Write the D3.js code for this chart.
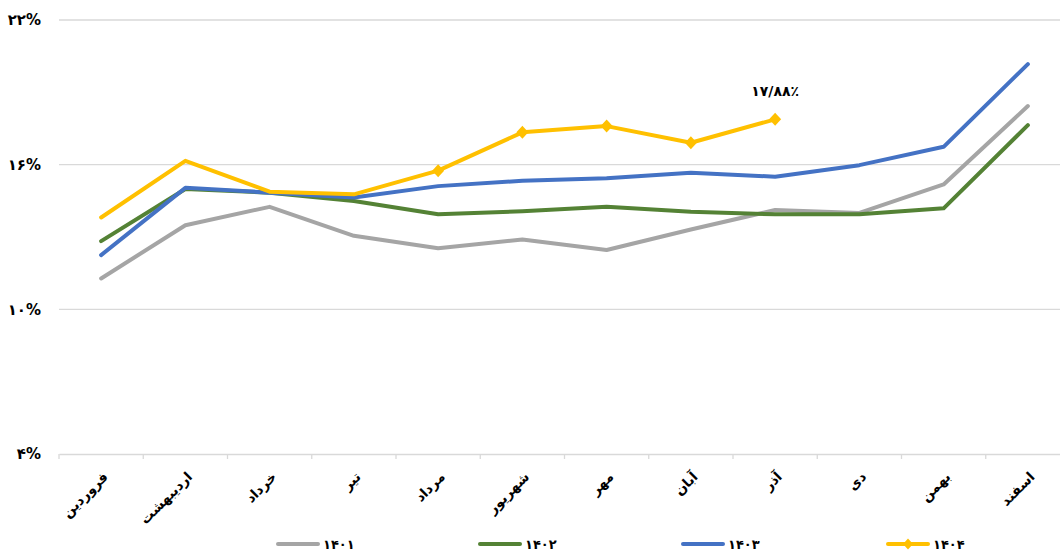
<!DOCTYPE html>
<html><head><meta charset="utf-8">
<script src="https://cdn.jsdelivr.net/npm/d3@7"></script>
<style>
html,body{margin:0;padding:0;background:#fff;}
svg{display:block;}
text{font-family:"DejaVu Sans",sans-serif;}
</style></head>
<body><svg id="c" width="1060" height="553"></svg>
<script>
const months = ["فروردین","اردیبهشت","خرداد","تیر","مرداد","شهریور","مهر","آبان","آذر","دی","بهمن","اسفند"];
const s1401 = [11.28,13.49,14.25,13.05,12.53,12.90,12.46,13.31,14.12,14.00,15.18,18.43];
const s1402 = [12.83,14.99,14.84,14.49,13.94,14.07,14.25,14.05,13.94,13.94,14.19,17.64];
const s1403 = [12.25,15.04,14.84,14.64,15.11,15.33,15.44,15.66,15.50,15.98,16.74,20.17];
const s1404 = [13.81,16.16,14.88,14.77,15.75,17.34,17.60,16.91,17.88];
const s1404Markers = [false,false,false,false,true,true,true,true,true];
const yTicks = [4,10,16,22];
const yTickLabels = ["۴%","۱۰%","۱۶%","۲۲%"];
const seriesNames = ["۱۴۰۱","۱۴۰۲","۱۴۰۳","۱۴۰۴"];
const seriesColors = ["#A5A5A5","#548235","#4472C4","#FFC000"];
const lastLabel = "۱۷/۸۸٪";

const svg = d3.select("#c");
const x = d3.scaleBand().domain(months).range([59,1070]);
const y = d3.scaleLinear().domain([4,22]).range([454,20]);

// gridlines
svg.append("g").selectAll("line").data(yTicks.filter(d=>d!==4)).join("line")
  .attr("x1",59).attr("x2",1060).attr("y1",d=>y(d)).attr("y2",d=>y(d))
  .attr("stroke","#D9D9D9").attr("stroke-width",1.3);

// y labels
svg.append("g").selectAll("text").data(yTicks).join("text")
  .attr("x",41).attr("y",d=>y(d)).attr("dy","0.35em")
  .attr("text-anchor","end").attr("font-size",15).attr("font-weight","bold")
  .attr("fill","#000").text((d,i)=>yTickLabels[i]);

// x axis
const xAxis = d3.axisBottom(x).tickSize(0).tickFormat("");
const gx = svg.append("g").attr("transform",`translate(0,${y(4)})`).call(xAxis);
gx.select(".domain").attr("stroke","#D9D9D9").attr("stroke-width",1.3);
const bounds = months.map(m=>x(m)).concat([x(months[11])+x.bandwidth()]);
gx.selectAll("line.tk").data(bounds).join("line").attr("class","tk")
  .attr("x1",d=>d).attr("x2",d=>d).attr("y1",0).attr("y2",5)
  .attr("stroke","#D9D9D9").attr("stroke-width",1.3);

svg.append("g").selectAll("text").data(months).join("text")
  .attr("transform",d=>`translate(${x(d)+x.bandwidth()/2+1},${y(4)+17}) rotate(-45)`)
  .attr("text-anchor","end").attr("dy","0.7em")
  .attr("font-size",13.5).attr("font-weight","bold").attr("fill","#000")
  .text(d=>d);

const cx = (d,i)=>x(months[i])+x.bandwidth()/2;
const line = d3.line().x((d,i)=>cx(d,i)).y(d=>y(d));
const allSeries = [s1401,s1402,s1403,s1404];
allSeries.forEach((s,k)=>{
  svg.append("path").datum(s).attr("d",line)
    .attr("fill","none").attr("stroke",seriesColors[k]).attr("stroke-width",4)
    .attr("stroke-linecap","round").attr("stroke-linejoin","round");
});
const diamond = (w,h)=>`M0,${-h}L${w},0L0,${h}L${-w},0Z`;
svg.append("g").selectAll("path").data(s1404.map((v,i)=>({v,i})).filter(d=>s1404Markers[d.i])).join("path")
  .attr("transform",d=>`translate(${cx(d.v,d.i)},${y(d.v)})`)
  .attr("d",diamond(6,6.5)).attr("fill",seriesColors[3]);

// data label
const li = s1404.length-1;
svg.append("text").attr("x",cx(s1404[li],li)).attr("y",y(s1404[li])-28)
  .attr("text-anchor","middle").attr("dy","0.35em").attr("font-size",14).attr("font-weight","bold")
  .attr("fill","#000").text(lastLabel);

// legend
const legX = [278,480,683,888];
const lg = svg.append("g").selectAll("g").data(seriesNames).join("g")
  .attr("transform",(d,i)=>`translate(${legX[i]},544)`);
lg.append("line").attr("x1",0).attr("x2",40).attr("stroke",(d,i)=>seriesColors[i])
  .attr("stroke-width",4).attr("stroke-linecap","round");
lg.filter((d,i)=>i===3).append("path").attr("transform","translate(20,0)").attr("d",diamond(5,5.5)).attr("fill",seriesColors[3]);
lg.append("text").attr("x",45).attr("dy","0.35em").attr("font-size",13).attr("font-weight","bold")
  .attr("fill","#000").text(d=>d);
</script></body></html>
